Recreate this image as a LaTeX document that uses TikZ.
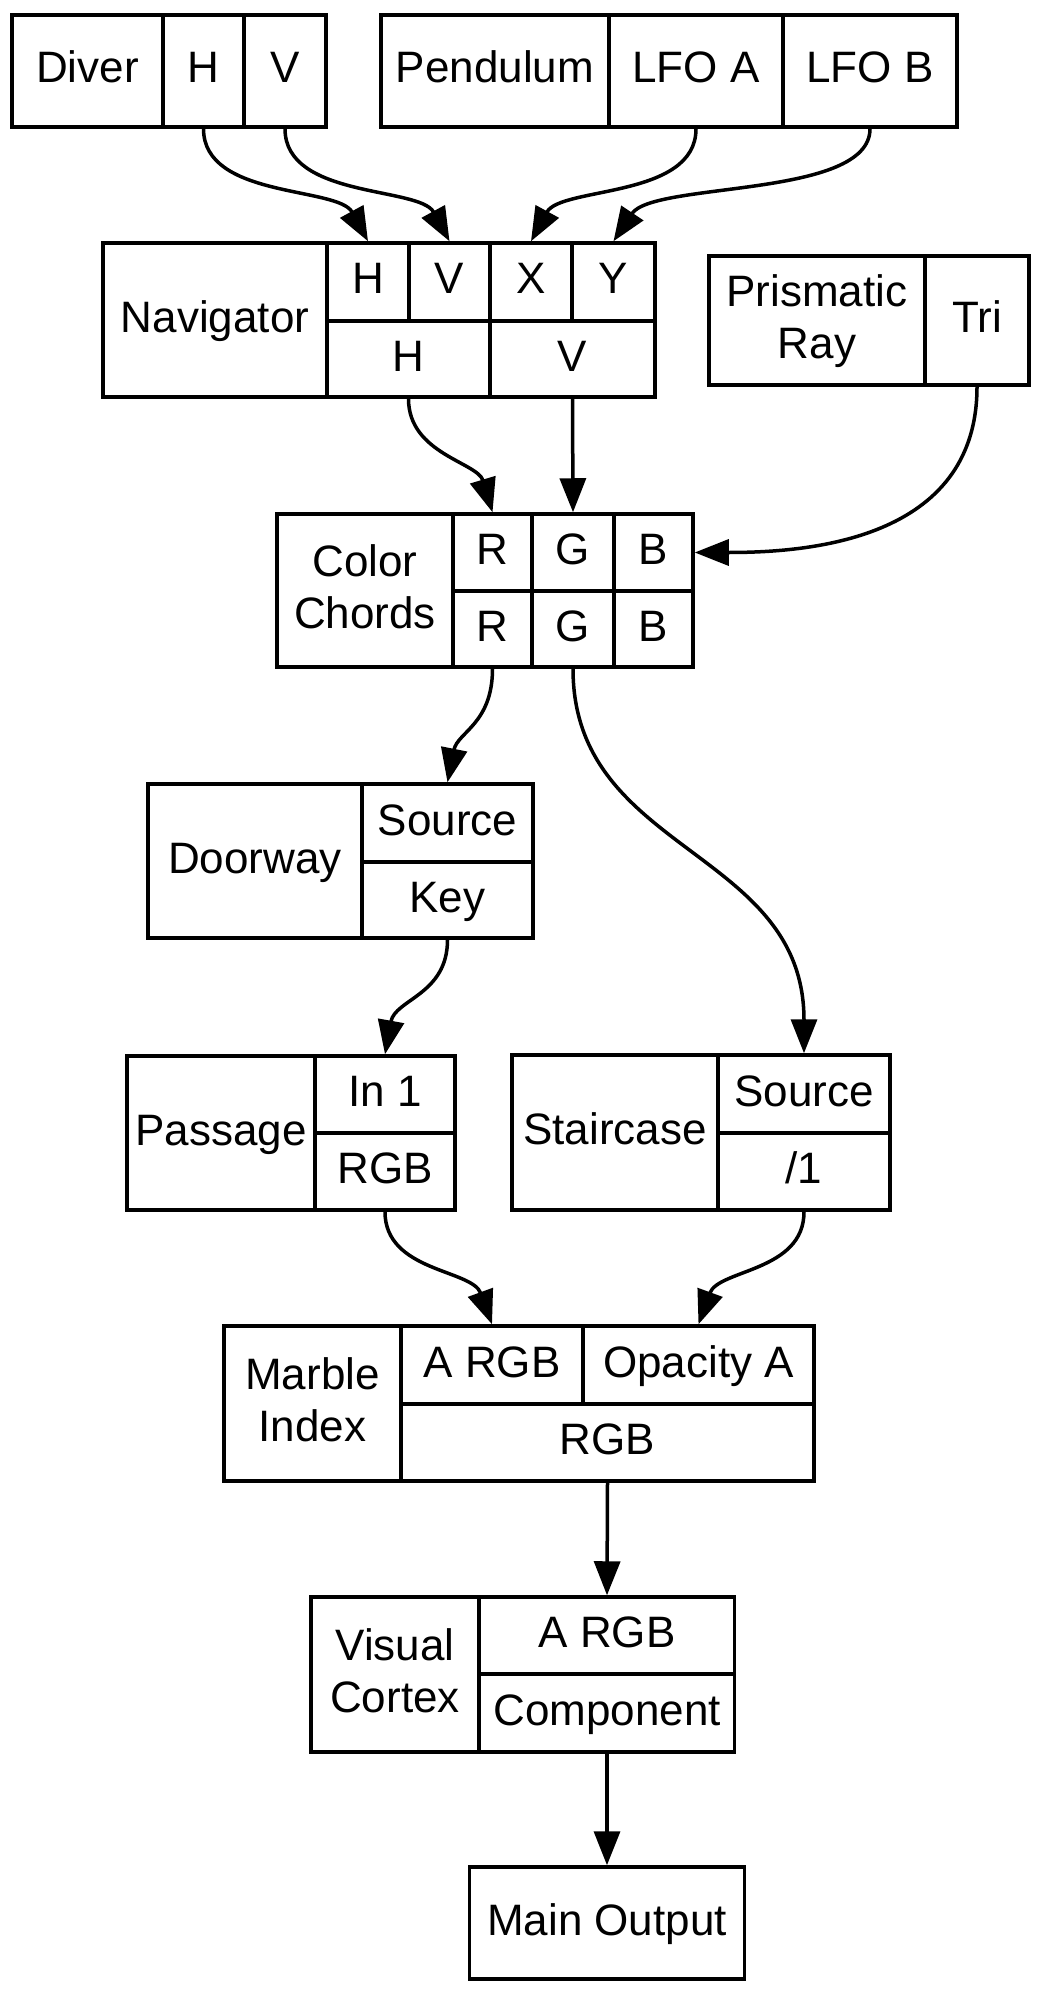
\documentclass[tikz,border=0pt]{standalone}
\usepackage{fontspec}
\setmainfont{Liberation Sans}
\usetikzlibrary{arrows.meta}
\newcommand\recfont{\fontsize{44}{52}\selectfont}

\begin{document}
\begin{tikzpicture}[x=1pt, y=-1pt,
        fld/.style={draw, line width=3.5pt, inner sep=0pt, align=center, font=\recfont,
                text height=33pt, text depth=9pt},
        twoline/.style={text height=85pt},
        wire/.style={line width=3.5pt, -{Triangle[length=34pt, width=26pt]}}]
        \useasboundingbox (0,0) rectangle (1040,1993);

        % Diver, Pendulum
        \node[fld, minimum width=151, minimum height=112] (dvLbl) at (87.5,71) {Diver};
        \node[fld, minimum width=81, minimum height=112] (dvH) at (203.5,71) {H};
        \node[fld, minimum width=82, minimum height=112] (dvV) at (285,71) {V};
        \node[fld, minimum width=228, minimum height=112] (pdLbl) at (495,71) {Pendulum};
        \node[fld, minimum width=174, minimum height=112] (pdA) at (696,71) {LFO A};
        \node[fld, minimum width=174, minimum height=112] (pdB) at (870,71) {LFO B};

        % Navigator
        \node[fld, minimum width=224, minimum height=154] (nvLbl) at (215,320) {Navigator};
        \node[fld, minimum width=82, minimum height=78] (nvH) at (368,282) {H};
        \node[fld, minimum width=81, minimum height=78] (nvV) at (449.5,282) {V};
        \node[fld, minimum width=82, minimum height=78] (nvX) at (531,282) {X};
        \node[fld, minimum width=83, minimum height=78] (nvY) at (613.5,282) {Y};
        \node[fld, minimum width=163, minimum height=76] (nvHo) at (408.5,359) {H};
        \node[fld, minimum width=165, minimum height=76] (nvVo) at (572.5,359) {V};

        % Prismatic Ray
        \node[fld, twoline, minimum width=216, minimum height=129] (prLbl) at (817,320.5) {Prismatic\\Ray};
        \node[fld, minimum width=104, minimum height=129] (prTri) at (977,320.5) {Tri};

        % Color Chords
        \node[fld, twoline, minimum width=176, minimum height=153] (ccLbl) at (365,590.5) {Color\\Chords};
        \node[fld, minimum width=79, minimum height=77] (ccRi) at (492.5,552.5) {R};
        \node[fld, minimum width=82, minimum height=77] (ccGi) at (573,552.5) {G};
        \node[fld, minimum width=79, minimum height=77] (ccBi) at (653.5,552.5) {B};
        \node[fld, minimum width=79, minimum height=76] (ccRo) at (492.5,629) {R};
        \node[fld, minimum width=82, minimum height=76] (ccGo) at (573,629) {G};
        \node[fld, minimum width=79, minimum height=76] (ccBo) at (653.5,629) {B};

        % Doorway
        \node[fld, minimum width=214, minimum height=154] (drLbl) at (255,861) {Doorway};
        \node[fld, minimum width=171, minimum height=78] (drSrc) at (447.5,823) {Source};
        \node[fld, minimum width=171, minimum height=76] (drKey) at (447.5,900) {Key};

        % Passage, Staircase
        \node[fld, minimum width=188, minimum height=154] (psLbl) at (221,1133) {Passage};
        \node[fld, minimum width=140, minimum height=77] (psIn) at (385,1094.5) {In 1};
        \node[fld, minimum width=140, minimum height=77] (psRGB) at (385,1171.5) {RGB};
        \node[fld, minimum width=206, minimum height=155] (stLbl) at (615,1132.5) {Staircase};
        \node[fld, minimum width=172, minimum height=78] (stSrc) at (804,1094) {Source};
        \node[fld, minimum width=172, minimum height=77] (stDiv) at (804,1171.5) {/1};

        % Marble Index
        \node[fld, twoline, minimum width=177, minimum height=155] (miLbl) at (312.5,1403.5) {Marble\\Index};
        \node[fld, minimum width=182, minimum height=78] (miA) at (492,1365) {A RGB};
        \node[fld, minimum width=231, minimum height=78] (miOp) at (698.5,1365) {Opacity A};
        \node[fld, minimum width=413, minimum height=77] (miRGB) at (607.5,1442.5) {RGB};

        % Visual Cortex, output
        \node[fld, twoline, minimum width=168, minimum height=155] (vcLbl) at (395,1674.5) {Visual\\Cortex};
        \node[fld, minimum width=255, minimum height=77] (vcA) at (607,1635.5) {A RGB};
        \node[fld, minimum width=255, minimum height=78] (vcComp) at (607,1713) {Component};
        \node[fld, minimum width=275, minimum height=112] (mo) at (607,1923) {Main Output};

        % spojnice
        \draw[wire] (dvH.south) .. controls +(0,70) and +(-30,-55) .. (nvH.north);
        \draw[wire] (dvV.south) .. controls +(0,70) and +(-30,-55) .. (nvV.north);
        \draw[wire] (pdA.south) .. controls +(0,70) and +(30,-55) .. (nvX.north);
        \draw[wire] (pdB.south) .. controls +(0,70) and +(40,-60) .. (nvY.north);
        \draw[wire] (nvHo.south) .. controls +(0,55) and +(-15,-50) .. (ccRi.north);
        \draw[wire] (nvVo.south) -- (ccGi.north);
        \draw[wire] (prTri.south) .. controls +(0,155) and +(110,0) .. (ccBi.east);
        \draw[wire] (ccRo.south) .. controls +(0,55) and +(10,-50) .. (drSrc.north);
        \draw[wire] (ccGo.south) .. controls +(0,185) and +(0,-205) .. (stSrc.north);
        \draw[wire] (drKey.south) .. controls +(0,55) and +(10,-55) .. (psIn.north);
        \draw[wire] (psRGB.south) .. controls +(0,60) and +(-20,-55) .. (miA.north);
        \draw[wire] (stDiv.south) .. controls +(0,60) and +(20,-55) .. (miOp.north);
        \draw[wire] (miRGB.south) -- (vcA.north);
        \draw[wire] (vcComp.south) -- (mo.north);
\end{tikzpicture}
\end{document}
